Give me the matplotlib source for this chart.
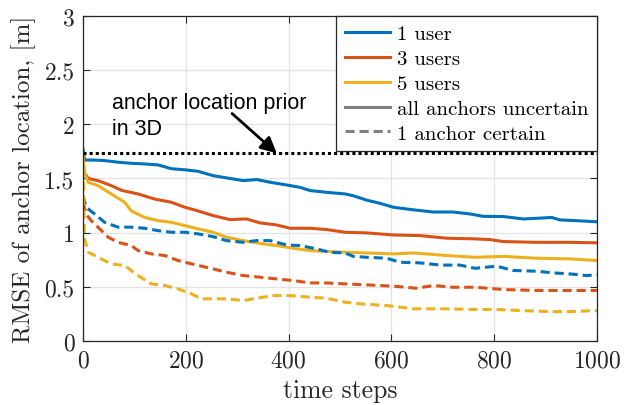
import numpy as np
import matplotlib
matplotlib.use('Agg')
import matplotlib.pyplot as plt
from matplotlib.lines import Line2D

plt.rcParams['font.family'] = 'serif'
plt.rcParams['font.serif'] = ['cmr10']
plt.rcParams['axes.formatter.use_mathtext'] = True

# MATLAB default colours
c_blue = '#0072BD'
c_red = '#D95319'
c_yel = '#EDB120'

# 1 user, all anchors uncertain
t_b1 = [0, 3, 20, 42, 68, 94, 120, 146, 172, 198, 224, 253, 286, 312, 338, 364, 396, 422,
        442, 474, 510, 526, 552, 578, 604, 643, 682, 720, 753, 779, 818, 857, 883, 912, 928, 960, 1000]
v_b1 = [1.77, 1.67, 1.67, 1.665, 1.65, 1.64, 1.634, 1.625, 1.59, 1.58, 1.566, 1.526, 1.50, 1.48,
        1.49, 1.465, 1.44, 1.418, 1.388, 1.372, 1.357, 1.34, 1.30, 1.27, 1.234, 1.21, 1.19, 1.19,
        1.172, 1.15, 1.148, 1.126, 1.132, 1.14, 1.117, 1.11, 1.10]

# 3 users, all anchors uncertain
t_r1 = [0, 3, 10, 29, 55, 75, 107, 139, 172, 198, 224, 253, 286, 318, 344, 377, 403, 442, 474,
        510, 552, 604, 656, 708, 763, 792, 818, 883, 948, 1000]
v_r1 = [1.60, 1.55, 1.50, 1.48, 1.434, 1.39, 1.357, 1.31, 1.28, 1.234, 1.20, 1.157, 1.12, 1.126,
        1.09, 1.07, 1.04, 1.04, 1.028, 1.003, 0.997, 0.978, 0.972, 0.948, 0.942, 0.935, 0.917,
        0.91, 0.91, 0.905]

# 5 users, all anchors uncertain
t_y1 = [0, 3, 10, 29, 55, 81, 94, 120, 146, 172, 198, 224, 253, 279, 312, 351, 377, 409, 442,
        474, 510, 552, 604, 643, 708, 763, 818, 883, 948, 1000]
v_y1 = [1.71, 1.55, 1.465, 1.434, 1.357, 1.28, 1.20, 1.14, 1.11, 1.095, 1.065, 1.034, 1.003,
        0.957, 0.926, 0.895, 0.88, 0.855, 0.834, 0.825, 0.818, 0.812, 0.803, 0.812, 0.788, 0.772,
        0.78, 0.763, 0.757, 0.742]

# 1 user, 1 anchor certain
t_b2 = [0, 6, 23, 42, 68, 94, 120, 146, 172, 198, 224, 253, 279, 312, 338, 364, 396, 422, 455,
        480, 510, 526, 552, 591, 617, 656, 695, 733, 763, 805, 837, 883, 915, 948, 980, 1000]
v_b2 = [1.34, 1.234, 1.17, 1.095, 1.05, 1.05, 1.04, 1.018, 1.003, 1.003, 0.988, 0.963, 0.926,
        0.91, 0.926, 0.926, 0.886, 0.88, 0.849, 0.818, 0.812, 0.78, 0.772, 0.763, 0.726, 0.72,
        0.70, 0.70, 0.67, 0.69, 0.65, 0.643, 0.628, 0.618, 0.603, 0.61]

# 3 users, 1 anchor certain
t_r2 = [0, 6, 16, 29, 49, 68, 94, 107, 133, 159, 185, 211, 253, 279, 312, 344, 377, 409, 442,
        474, 510, 552, 604, 649, 682, 720, 763, 818, 883, 948, 1000]
v_r2 = [1.28, 1.17, 1.11, 1.05, 0.957, 0.91, 0.88, 0.834, 0.803, 0.788, 0.742, 0.711, 0.665,
        0.634, 0.603, 0.588, 0.572, 0.557, 0.535, 0.535, 0.526, 0.517, 0.505, 0.486, 0.511, 0.495,
        0.495, 0.474, 0.465, 0.465, 0.465]

# 5 users, 1 anchor certain
t_y2 = [0, 3, 10, 29, 55, 81, 107, 133, 159, 185, 211, 230, 253, 279, 312, 338, 370, 403, 442,
        474, 510, 539, 591, 643, 695, 763, 805, 850, 915, 948, 1000]
v_y2 = [1.6, 0.94, 0.82, 0.772, 0.71, 0.696, 0.603, 0.526, 0.511, 0.48, 0.434, 0.388, 0.388,
        0.388, 0.372, 0.394, 0.418, 0.418, 0.403, 0.394, 0.357, 0.342, 0.326, 0.296, 0.296, 0.29,
        0.29, 0.28, 0.27, 0.27, 0.28]

prior = np.sqrt(3)
legend_labels = ['1 user', '3 users', '5 users', 'all anchors uncertain', '1 anchor certain']

fig = plt.figure(figsize=(6.29, 4.06), dpi=100)
ax = fig.add_axes([0.132, 0.158, 0.817, 0.800])

lw = 2.2
dash = (0, (3, 1.6))
ax.plot(t_b1, v_b1, color=c_blue, lw=lw)
ax.plot(t_r1, v_r1, color=c_red, lw=lw)
ax.plot(t_y1, v_y1, color=c_yel, lw=lw)
ax.plot(t_b2, v_b2, color=c_blue, lw=lw, linestyle=dash)
ax.plot(t_r2, v_r2, color=c_red, lw=lw, linestyle=dash)
ax.plot(t_y2, v_y2, color=c_yel, lw=lw, linestyle=dash)
ax.plot([0, 1000], [prior, prior], color='k', lw=2.2, linestyle=(0, (1, 1)))

# label and arrow
ax.text(56, 2.30, 'anchor location prior\nin 3D', ha='left', va='top', fontsize=15.5,
        family='Liberation Sans', linespacing=1.3, zorder=5)
ax.annotate('', xy=(377, prior), xytext=(290, 2.10),
            arrowprops=dict(arrowstyle='-|>', color='k', lw=2, mutation_scale=24,
                            shrinkA=0, shrinkB=0),
            zorder=5)

ax.set_xlim(0, 1000)
ax.set_ylim(0, 3)
ax.set_xticks([0, 200, 400, 600, 800, 1000])
ax.set_yticks([0, 0.5, 1, 1.5, 2, 2.5, 3])
ax.set_yticklabels(['0', '0.5', '1', '1.5', '2', '2.5', '3'])
ax.tick_params(direction='in', length=5, width=0.8, labelsize=17, top=True, right=True,
               colors='#262626', labelcolor='#262626', pad=6)
ax.grid(True, color='#e3e3e3', lw=0.9)
ax.set_axisbelow(True)
for s in ax.spines.values():
    s.set_color('#262626')
    s.set_linewidth(0.9)

ax.set_xlabel('time steps', fontsize=18.5, color='#262626', labelpad=5)
ax.set_ylabel('RMSE of anchor location, [m]', fontsize=18, color='#262626', labelpad=6)

handles = [Line2D([], [], color=c_blue, lw=lw),
           Line2D([], [], color=c_red, lw=lw),
           Line2D([], [], color=c_yel, lw=lw),
           Line2D([], [], color='#808080', lw=lw),
           Line2D([], [], color='#808080', lw=lw, linestyle=dash)]
leg = ax.legend(handles, legend_labels, loc='upper right', borderaxespad=0, fontsize=15,
                handlelength=2.2, handletextpad=0.3, labelspacing=0.3, borderpad=0.42,
                fancybox=False, framealpha=1, edgecolor='#262626')
leg.get_frame().set_linewidth(0.9)
leg.set_zorder(4)

fig.savefig('out.png', dpi=100)
